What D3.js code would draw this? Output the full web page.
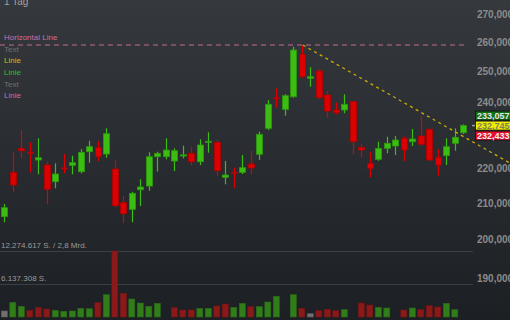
<!DOCTYPE html>
<html><head><meta charset="utf-8">
<script src="https://cdn.jsdelivr.net/npm/d3@7"></script>
<style>html,body{margin:0;padding:0;background:#23262a;overflow:hidden}</style>
</head><body><svg id="c" width="510" height="320"></svg>
<script>
const opens = [206190,218720,225810,224710,222330,220860,216000,220040,220770,218900,224800,226120,224110,219680,210060,208220,213720,214770,223310,223310,222040,223700,224320,221830,227690,227630,217270,218720,218720,221150,224020,231900,241500,237830,241850,255880,247840,250260,242400,237610,237610,240250,226120,221360,222540,225810,226510,228840,227810,229540,231590,223130,223610,227320,230540];
const highs = [209700,224620,231370,227630,228840,221830,221360,224110,223610,225600,228110,228020,231900,222330,211940,213150,216690,224620,224800,228840,225810,226600,226300,228530,230670,228530,222040,220070,223810,225090,230850,240790,244570,242630,258460,259060,251500,250830,243690,239930,242630,240380,227110,224800,227810,229330,229540,229330,231680,235730,231900,225600,228840,231900,233130];
const lows = [204660,212980,222830,218720,218140,209610,214120,218430,218140,218430,221540,222040,223010,208780,204390,204660,209140,213430,218940,222540,219100,222830,220860,220860,224500,217740,215260,214120,218230,218230,222330,231370,238470,235820,241530,248040,245090,241020,235190,236260,236580,224110,223010,217270,222120,224320,223810,222040,226510,226510,222040,217740,220860,225090,230150];
const closes = [208670,215060,225090,224470,223010,213830,218230,219800,221540,224620,226300,223310,230240,209230,207010,212700,214490,223310,224320,225300,225090,223870,221830,226810,227930,219190,217940,218520,220070,219980,230060,239420,241240,242180,257340,248370,248370,241530,237300,236760,239420,227810,225300,219890,225810,227320,228320,225300,228630,227020,222330,220860,226300,229150,232745];
const volumes = [1120000,2730000,1990000,1250000,1800000,1490000,1250000,1060000,1120000,1620000,1540000,2660000,4150000,12274617,4410000,3350000,2600000,1990000,2550000,0,1730000,1300000,1300000,1620000,1620000,2050000,2420000,1800000,2550000,1920000,1920000,2790000,3850000,0,4150000,1620000,610000,1170000,1430000,1170000,1360000,0,2600000,2230000,1800000,1670000,0,1300000,1670000,1360000,2100000,1860000,2550000,1360000,0];
const priceTicks = [190000,200000,210000,220000,240000,250000,260000,270000];
const quoteValues = [233057,232745,232433];
const volumeLabels = ["12.274.617 S. / 2,8 Mrd.","6.137.308 S."];
const legendLabels = ["Horizontal Line","Text","Linie","Linie","Text","Linie"];
const periodLabel = "1 Tag";
const hLineValue = 259060;
const trendPoints = [{i:35,v:259060},{i:60,v:220700}];

const svg = d3.select("#c");
const W = 510, H = 320;
const defs = svg.append("defs");
const g = defs.append("linearGradient").attr("id","bg").attr("x1",0).attr("y1",0).attr("x2",0).attr("y2",1);
g.append("stop").attr("offset","0%").attr("stop-color","#35393d");
g.append("stop").attr("offset","100%").attr("stop-color","#1c1f23");
svg.append("rect").attr("width",W).attr("height",H).attr("fill","url(#bg)");

const x = d3.scaleLinear().domain([0,54]).range([4.3,463.3]);
const y = d3.scaleLog().domain([190000,270000]).range([278.2,13.9]);
const maxVol = d3.max(volumes);
const yv = d3.scaleLinear().domain([0,maxVol]).range([317,251]);

// volume grid + labels
const vTicks = [maxVol, maxVol/2];
svg.selectAll(".vg").data(vTicks).enter().append("line")
  .attr("x1",0).attr("x2",473).attr("y1",d=>Math.round(yv(d))+0.5).attr("y2",d=>Math.round(yv(d))+0.5)
  .attr("stroke","#3b3f43").attr("stroke-width",1);
svg.selectAll(".vl").data(vTicks).enter().append("text")
  .attr("x",1).attr("y",d=>yv(d)-3).text((d,i)=>volumeLabels[i])
  .attr("font-family","Liberation Sans, Arial, sans-serif").attr("font-size",8).attr("fill","#9a9a9a");

// volume bars
const vcol = (i)=> i===0 ? "#707070" : closes[i]>closes[i-1] ? "#307d1a" : closes[i]<closes[i-1] ? "#8c1919" : "#707070";
svg.selectAll(".vb").data(volumes).enter().append("rect")
  .attr("x",(d,i)=>x(i)-3).attr("width",6)
  .attr("y",d=>yv(d)).attr("height",d=>yv(0)-yv(d))
  .attr("fill",(d,i)=>vcol(i)).attr("stroke",(d,i)=>d3.color(vcol(i)).darker(0.5)).attr("stroke-width",0.6);

// price axis labels
const fmt = d3.format(",.0f");
svg.selectAll(".pt").data(priceTicks).enter().append("text")
  .attr("x",477).attr("y",d=>y(d)+3.6).text(d=>fmt(d))
  .attr("font-family","Liberation Sans, Arial, sans-serif").attr("font-size",10).attr("font-weight","bold").attr("fill","#8c8c8c");

// horizontal pink dashed line
svg.append("line").attr("x1",0).attr("x2",465).attr("y1",y(hLineValue)).attr("y2",y(hLineValue))
  .attr("stroke","#c8679a").attr("stroke-width",1).attr("stroke-dasharray","5,4");

// candles
const data = opens.map((o,i)=>({i,o,h:highs[i],l:lows[i],c:closes[i]}));
const cg = svg.append("g");
data.forEach(d=>{
  const up = d.c>=d.o;
  const fill = up ? "#3cbd12" : "#dc0000";
  const stroke = up ? "#2c9a0c" : "#b20000";
  const cx = Math.round(x(d.i))+0.5;
  cg.append("line").attr("x1",cx).attr("x2",cx).attr("y1",y(d.h)).attr("y2",y(d.l)).attr("stroke",fill).attr("stroke-width",1.2);
  const top = y(Math.max(d.o,d.c)), bot = y(Math.min(d.o,d.c));
  const hgt = Math.max(bot-top,1.2);
  cg.append("rect").attr("x",cx-3).attr("width",6).attr("y",top).attr("height",hgt)
    .attr("fill",fill).attr("stroke",stroke).attr("stroke-width",0.8);
});

// trend line
svg.append("line").attr("x1",x(trendPoints[0].i)+1).attr("y1",y(trendPoints[0].v))
  .attr("x2",x(trendPoints[1].i)).attr("y2",y(trendPoints[1].v))
  .attr("stroke","#c9ab0a").attr("stroke-width",1.3).attr("stroke-dasharray","3,3.5");

// legend
const legendColors = ["#d06ca2","#707070","#d0b80c","#22c422","#707070","#d06ca2"];
svg.selectAll(".lg").data(legendLabels).enter().append("text")
  .attr("x",4).attr("y",(d,i)=>40.2+i*11.6).text(d=>d)
  .attr("font-family","Liberation Sans, Arial, sans-serif").attr("font-size",8).attr("fill",(d,i)=>legendColors[i]);

svg.append("text").attr("x",4).attr("y",5).text(periodLabel)
  .attr("font-family","Liberation Sans, Arial, sans-serif").attr("font-size",10).attr("fill","#a0a0a0");

// quote boxes
const lastY = y(quoteValues[1]);
svg.append("line").attr("x1",472).attr("x2",475).attr("y1",lastY).attr("y2",lastY).attr("stroke","#9a9a9a").attr("stroke-width",1.5);
const boxFill = ["#137015","#eded00","#e3102c"];
const boxText = ["#e6e6e6","#80805a","#f0f0f0"];
quoteValues.forEach((v,k)=>{
  const cy = lastY + (k-1)*10;
  svg.append("rect").attr("x",475.5).attr("y",cy-4.5).attr("width",36).attr("height",9)
    .attr("fill",boxFill[k]).attr("stroke","#111").attr("stroke-width",0.8);
  svg.append("text").attr("x",477).attr("y",cy+3.3).text(d3.format(",")(v))
    .attr("font-family","Liberation Sans, Arial, sans-serif").attr("font-size",9).attr("font-weight","bold").attr("fill",boxText[k]);
});
</script></body></html>
